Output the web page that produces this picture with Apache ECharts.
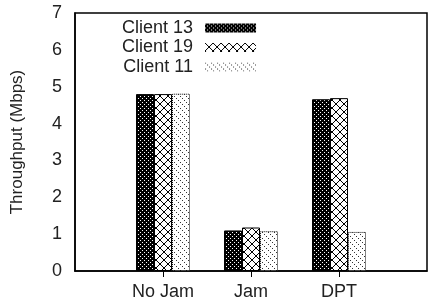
<!DOCTYPE html>
<html lang="en">
  <head>
    <meta charset="UTF-8" />
    <title>Throughput</title>
    <script src="https://cdn.jsdelivr.net/npm/echarts@6/dist/echarts.min.js"></script>
    <style>
      body { margin: 0; background: #fff; }
    </style>
  </head>
  <body>
    <div id="main" style="width: 430px; height: 304px"></div>
    <script type="text/javascript">
      // data
      const categories = ["", "No Jam", "Jam", "DPT", ""];
      const client13 = [null, 4.8, 1.1, 4.66, null];
      const client19 = [null, 4.8, 1.18, 4.69, null];
      const client11 = [null, 4.81, 1.08, 1.06, null];
      const yTicks = [0, 1, 2, 3, 4, 5, 6, 7];

      // small canvas tiles for the gnuplot-like fill patterns
      function tile(size, draw) {
        const c = document.createElement("canvas");
        c.width = size;
        c.height = size;
        const ctx = c.getContext("2d");
        ctx.fillStyle = "#fff";
        ctx.fillRect(0, 0, size, size);
        draw(ctx);
        return { image: c, repeat: "repeat" };
      }
      // dense dark checker
      const pat13 = tile(4, (ctx) => {
        ctx.fillStyle = "#000";
        ctx.fillRect(0, 0, 4, 4);
        ctx.fillStyle = "#fff";
        ctx.fillRect(0, 0, 1, 1);
        ctx.fillRect(2, 2, 1, 1);
      });
      // cross hatch
      const pat19 = tile(8, (ctx) => {
        ctx.fillStyle = "#000";
        for (let i = 0; i < 8; i++) {
          ctx.fillRect(i, i, 1, 1);
          ctx.fillRect(7 - i, i, 1, 1);
        }
      });
      // sparse dotted diagonals
      const pat11 = tile(6, (ctx) => {
        ctx.fillStyle = "#333";
        ctx.fillRect(0, 0, 1, 1);
        ctx.fillRect(2, 2, 1, 1);
        ctx.fillRect(4, 4, 1, 1);
      });

      const font = "Liberation Sans";
      const bar = (name, data, pat, border) => ({
        name: name,
        type: "bar",
        data: data,
        barWidth: 18,
        barGap: "0%",
        itemStyle: { color: pat, borderColor: "#000", borderWidth: 1, borderType: border },
        emphasis: { disabled: true },
      });

      let options = {
        animation: false,
        grid: {
          left: 75, right: 3, top: 13, bottom: 33,
          show: true, borderColor: "#000", borderWidth: 1.5,
        },
        legend: {
          orient: "vertical",
          left: 117,
          top: 14,
          align: "right",
          icon: "rect",
          itemWidth: 51,
          itemHeight: 9,
          itemGap: 1.5,
          itemStyle: { borderWidth: 0 },
          textStyle: { fontFamily: font, fontSize: 18, lineHeight: 18, color: "#222", padding: [0, 7, 0, 0] },
          data: ["Client 13", "Client 19", "Client 11"],
        },
        xAxis: [
          {
            type: "category",
            data: categories,
            boundaryGap: false,
            axisLine: { lineStyle: { color: "#000", width: 1.5 } },
            axisTick: { show: false },
            axisLabel: { fontFamily: font, fontSize: 18, color: "#222", margin: 12 },
          },
          {
            type: "category",
            data: categories,
            boundaryGap: false,
            position: "top",
            axisLine: { show: false },
            axisTick: { inside: true, length: 6, lineStyle: { color: "#000" },
              interval: (i) => i > 0 && i < categories.length - 1 },
            axisLabel: { show: false },
          },
        ],
        yAxis: [
          {
            type: "value",
            min: yTicks[0],
            max: yTicks[yTicks.length - 1],
            interval: 1,
            name: "Throughput (Mbps)",
            nameLocation: "middle",
            nameGap: 49,
            nameTextStyle: { fontFamily: font, fontSize: 17, color: "#222" },
            splitLine: { show: false },
            axisLine: { show: true, lineStyle: { color: "#000", width: 1.5 } },
            axisTick: { inside: true, length: 6, lineStyle: { color: "#000" } },
            axisLabel: { fontFamily: font, fontSize: 18, color: "#222", margin: 13 },
          },
          {
            type: "value",
            min: yTicks[0],
            max: yTicks[yTicks.length - 1],
            interval: 1,
            position: "right",
            splitLine: { show: false },
            axisLine: { show: false },
            axisTick: { inside: true, length: 6, lineStyle: { color: "#000" } },
            axisLabel: { show: false },
          },
        ],
        series: [
          bar("Client 13", client13, pat13, "solid"),
          bar("Client 19", client19, pat19, "solid"),
          bar("Client 11", client11, pat11, "dotted"),
        ],
      };

      let myChart = echarts.init(document.getElementById("main"));
      myChart.setOption(options);
    </script>
  </body>
</html>
